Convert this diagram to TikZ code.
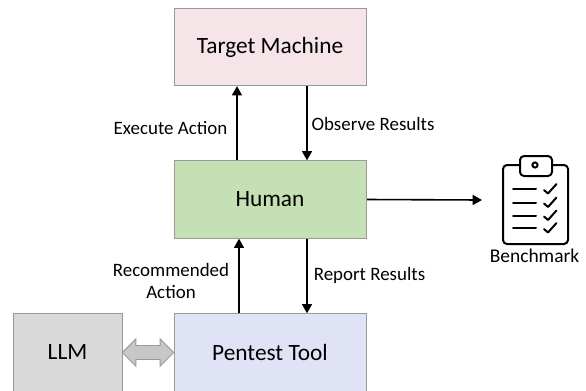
\documentclass[tikz,border=0pt]{standalone}
\usepackage{fontspec}
\setmainfont{Carlito}
\usetikzlibrary{arrows.meta,shapes.arrows}
\pgfdeclarelayer{edgelayer}
\pgfdeclarelayer{nodelayer}
\pgfsetlayers{edgelayer,nodelayer,main}
\definecolor{targetfill}{HTML}{F5E4E8}
\definecolor{humanfill}{HTML}{C5E0B4}
\definecolor{toolfill}{HTML}{E0E3F5}
\definecolor{llmfill}{HTML}{D9D9D9}
\definecolor{boxline}{HTML}{9A9A9A}
\tikzset{font=\fontsize{17.5pt}{20pt}\selectfont}
\tikzstyle{box}=[rectangle,draw=boxline,line width=0.7pt,minimum width=144pt,minimum height=58pt,inner sep=0pt]
\tikzstyle{lab}=[inner sep=0pt,font=\fontsize{14.2pt}{16.5pt}\selectfont,align=center]
\tikzstyle{flow}=[line width=1.2pt,-{Triangle[length=7pt,width=7.5pt]}]
\tikzstyle{icon}=[line width=1.5pt,line cap=round,line join=round]

\begin{document}
\begin{tikzpicture}[x=0.75pt,y=-0.75pt]
	\useasboundingbox (0, 0) rectangle (586, 390);
	\begin{pgfonlayer}{nodelayer}
		\node [style=box,fill=targetfill] (target) at (270, 47) {Target Machine};
		\node [style=box,fill=humanfill] (human) at (270, 199.5) {Human};
		\node [style=box,fill=toolfill] (tool) at (270, 352.5) {Pentest Tool};
		\node [style=box,fill=llmfill,minimum width=81.75pt] (llm) at (67.5, 352.5) {LLM};
		\node [style=lab] (execute) at (170.5, 128) {Execute Action};
		\node [style=lab] (observe) at (373, 124) {Observe Results};
		\node [style=lab] (recommended) at (171, 281) {Recommended\\Action};
		\node [style=lab] (report) at (369.5, 275) {Report Results};
		\node [style=lab,font=\fontsize{14.6pt}{16.5pt}\selectfont] (benchmark) at (534.5, 256) {Benchmark};
		\coordinate (icon) at (482, 200);
		\node [double arrow,draw=boxline,fill=black!22,line width=0.7pt,inner sep=4.9pt,minimum height=38.5pt,double arrow head extend=4.9pt,double arrow head indent=0pt] (link) at (148, 352.5) {};
	\end{pgfonlayer}
	\begin{pgfonlayer}{edgelayer}
		\draw [style=flow] ([xshift=-24.75pt]human.north) to ([xshift=-24.75pt]target.south);
		\draw [style=flow] ([xshift=27.75pt]target.south) to ([xshift=27.75pt]human.north);
		\draw [style=flow] ([xshift=-23.25pt]tool.north) to ([xshift=-23.25pt]human.south);
		\draw [style=flow] ([xshift=27.75pt]human.south) to ([xshift=27.75pt]tool.north);
		\draw [style=flow] (human.east) to (icon);
	\end{pgfonlayer}
	% clipboard
	\draw [style=icon,rounded corners=3pt] (520, 165) -- (503, 165) -- (503, 244) -- (568, 244) -- (568, 165) -- (552, 165);
	\draw [style=icon,rounded corners=3pt] (520, 176) -- (520, 156) -- (552, 156) -- (552, 176) -- cycle;
	\draw [style=icon] (535, 165) circle [radius=2.6];
	\foreach \y in {189, 202.5, 215.5, 228} {
		\draw [style=icon] (513, \y) -- (536, \y);
		\draw [style=icon] (544, \y+1) -- (548, \y+4.5) -- (556.5, \y-5);
	}
\end{tikzpicture}
\end{document}
